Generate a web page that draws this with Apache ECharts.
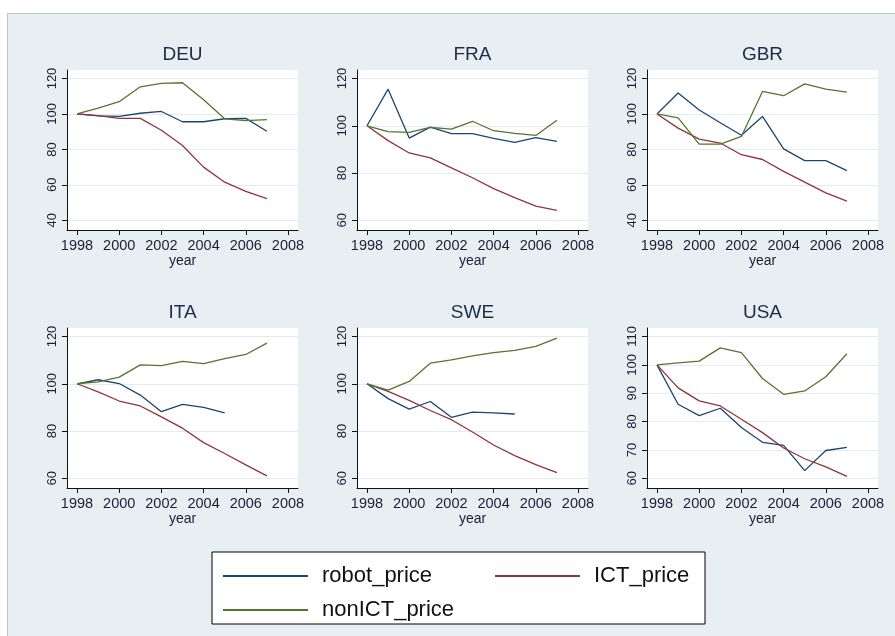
<!DOCTYPE html>
<html lang="en">
<head>
<meta charset="UTF-8">
<title>robot / ICT / nonICT price</title>
<style>
    html, body { margin: 0; padding: 0; background: #fff; }
    .frame {
        position: absolute; left: 7px; top: 13px; right: 0; bottom: 0;
        background: #e7eff2;
        border-left: 1px solid #c4c4c4;
        border-top: 1px solid #c4c4c4;
    }
    .main { position: absolute; left: 0; top: 0; width: 895px; height: 636px; }
</style>
<script src="https://cdn.jsdelivr.net/npm/echarts@6/dist/echarts.min.js"></script>
</head>
<body>
<div class="frame"></div>
<div class="main"></div>
<script>
    // data (index, 1998 = 100)
    var years = [1998, 1999, 2000, 2001, 2002, 2003, 2004, 2005, 2006, 2007];
    var yearTicks = [1998, 2000, 2002, 2004, 2006, 2008];

    var deuTicks = [40, 60, 80, 100, 120];
    var deuRobot = [100, 98.9, 98.6, 100.4, 101.4, 95.6, 95.6, 97.3, 97.5, 90.2];
    var deuIct = [100, 99.0, 97.5, 97.5, 90.8, 82.2, 70.0, 61.5, 56.3, 52.2];
    var deuNonIct = [100, 103.3, 106.9, 115.3, 117.2, 117.6, 108.0, 97.3, 96.2, 96.8];

    var fraTicks = [60, 80, 100, 120];
    var fraRobot = [100, 115.5, 94.8, 99.4, 96.7, 96.7, 94.7, 93.0, 95.0, 93.4];
    var fraIct = [100, 93.7, 88.5, 86.4, 82.2, 78.0, 73.4, 69.6, 66.0, 64.2];
    var fraNonIct = [100, 97.5, 97.2, 99.3, 98.6, 101.9, 97.9, 96.8, 95.9, 102.3];

    var gbrTicks = [40, 60, 80, 100, 120];
    var gbrRobot = [100, 111.8, 102.2, 95.0, 88.0, 98.6, 80.3, 73.7, 73.7, 68.0];
    var gbrIct = [100, 92.0, 85.8, 83.6, 77.0, 74.3, 67.6, 61.5, 55.5, 50.8];
    var gbrNonIct = [100, 97.8, 83.0, 83.0, 87.3, 112.7, 110.3, 117.0, 114.0, 112.3];

    var itaTicks = [60, 80, 100, 120];
    var itaRobot = [100, 101.7, 100.1, 95.2, 88.2, 91.3, 90.0, 87.7, null, null];
    var itaIct = [100, 96.6, 92.7, 90.6, 86.0, 81.2, 75.1, 70.5, 65.7, 61.0];
    var itaNonIct = [100, 100.8, 102.8, 108.0, 107.7, 109.5, 108.5, 110.6, 112.4, 117.2];

    var sweTicks = [60, 80, 100, 120];
    var sweRobot = [100, 93.7, 89.3, 92.5, 85.8, 88.0, 87.7, 87.2, null, null];
    var sweIct = [100, 96.8, 93.0, 88.7, 84.8, 79.6, 74.1, 69.6, 65.8, 62.4];
    var sweNonIct = [100, 97.3, 101.0, 108.7, 110.1, 111.8, 113.2, 114.1, 115.8, 119.3];

    var usaTicks = [60, 70, 80, 90, 100, 110];
    var usaRobot = [100, 86.1, 82.1, 84.7, 77.9, 72.7, 71.6, 62.7, 69.8, 70.9];
    var usaIct = [100, 91.9, 87.3, 85.5, 80.8, 76.1, 70.7, 66.9, 64.0, 60.7];
    var usaNonIct = [100, 100.7, 101.3, 106.0, 104.3, 95.2, 89.6, 90.8, 95.8, 103.9];

    var panels = [
        { name: 'DEU', ticks: deuTicks, robot: deuRobot, ict: deuIct, non: deuNonIct },
        { name: 'FRA', ticks: fraTicks, robot: fraRobot, ict: fraIct, non: fraNonIct },
        { name: 'GBR', ticks: gbrTicks, robot: gbrRobot, ict: gbrIct, non: gbrNonIct },
        { name: 'ITA', ticks: itaTicks, robot: itaRobot, ict: itaIct, non: itaNonIct },
        { name: 'SWE', ticks: sweTicks, robot: sweRobot, ict: sweIct, non: sweNonIct },
        { name: 'USA', ticks: usaTicks, robot: usaRobot, ict: usaIct, non: usaNonIct }
    ];

    // layout (stata-like small multiples)
    var FONT = 'Arial, "Liberation Sans", sans-serif';
    var colLeft = [67, 357, 647];
    var rowTop = [70, 328];
    var plotW = 231, plotH = 160;
    var padX = 10, padTop = 8.5, padBottom = 9.7;
    var navy = '#1a476f', maroon = '#90353b', green = '#55752f';
    var textColor = '#1b1f36';

    // stretch a tick range so it leaves some px of room at both ends
    function padRange(lo, hi, size, padLo, padHi) {
        var unit = (size - padLo - padHi) / (hi - lo);
        return [lo - padLo / unit, hi + padHi / unit];
    }

    function pairs(vals) {
        var out = [];
        for (var i = 0; i < years.length; i++) {
            if (vals[i] != null) out.push([years[i], vals[i]]);
        }
        return out;
    }

    function plain(v) { return String(Math.round(v)); }

    var xRange = padRange(yearTicks[0], yearTicks[yearTicks.length - 1], plotW, padX, padX);
    var grids = [], xAxes = [], yAxes = [], series = [], graphics = [];

    panels.forEach(function (p, i) {
        var col = i % 3, row = Math.floor(i / 3);
        var yRange = padRange(p.ticks[0], p.ticks[p.ticks.length - 1], plotH, padBottom, padTop);

        grids.push({
            left: colLeft[col], top: rowTop[row], width: plotW, height: plotH,
            show: true, backgroundColor: '#fff', borderWidth: 0
        });

        xAxes.push({
            gridIndex: i, type: 'value', min: xRange[0], max: xRange[1],
            name: 'year', nameLocation: 'middle', nameGap: 21,
            nameTextStyle: { fontSize: 14, color: textColor, fontFamily: FONT },
            axisLine: { onZero: false, lineStyle: { color: '#111', width: 1 } },
            axisTick: { show: true, customValues: yearTicks, length: 5, lineStyle: { color: '#111' } },
            axisLabel: { customValues: yearTicks, formatter: plain, margin: 8, fontSize: 14.5, color: textColor, fontFamily: FONT },
            splitLine: { show: false }
        });

        yAxes.push({
            gridIndex: i, type: 'value', min: yRange[0], max: yRange[1],
            axisLine: { show: true, onZero: false, lineStyle: { color: '#111', width: 1 } },
            axisTick: { show: true, customValues: p.ticks, length: 5, lineStyle: { color: '#111' } },
            axisLabel: { customValues: p.ticks, formatter: plain, rotate: 90, margin: 8, fontSize: 13, color: textColor, fontFamily: FONT },
            splitLine: { show: true, lineStyle: { color: '#e3ebee', width: 1 } }
        });

        [['robot_price', p.robot, navy], ['ICT_price', p.ict, maroon], ['nonICT_price', p.non, green]]
            .forEach(function (s) {
                series.push({
                    name: s[0], type: 'line', xAxisIndex: i, yAxisIndex: i,
                    data: pairs(s[1]), symbol: 'none', color: s[2],
                    lineStyle: { color: s[2], width: 1.3 }
                });
            });

        graphics.push({
            type: 'text', x: colLeft[col] + plotW / 2, y: rowTop[row] - 15,
            style: {
                text: p.name, align: 'center', verticalAlign: 'middle',
                fontSize: 19, fontFamily: FONT, fill: '#1d2b4a'
            }
        });
    });

    var myChart = echarts.init(document.querySelector('.main'));
    myChart.setOption({
        animation: false,
        backgroundColor: 'transparent',
        grid: grids,
        xAxis: xAxes,
        yAxis: yAxes,
        series: series,
        graphic: graphics,
        legend: {
            left: 212, top: 552, width: 472,
            padding: [13, 11, 3, 10],
            itemWidth: 85, itemHeight: 18, itemGap: 12,
            backgroundColor: '#fff', borderColor: '#000', borderWidth: 1, borderRadius: 0,
            lineStyle: { width: 2 },
            itemStyle: { opacity: 0, borderWidth: 0 },
            textStyle: { fontSize: 22, lineHeight: 18, height: 18, color: '#111', padding: [0, 0, 0, 9], fontFamily: FONT },
            data: [
                { name: 'robot_price', textStyle: { width: 160 } },
                { name: 'ICT_price', textStyle: { width: 100 } },
                { name: 'nonICT_price', textStyle: { width: 160 } }
            ]
        }
    });
</script>
</body>
</html>
